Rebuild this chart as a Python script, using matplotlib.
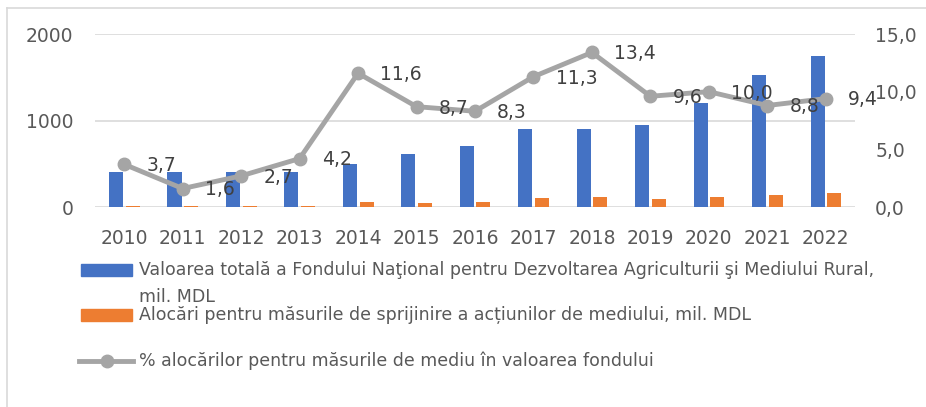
import matplotlib
matplotlib.use('Agg')
import matplotlib.pyplot as plt
from matplotlib.patches import Rectangle
from matplotlib.lines import Line2D
import numpy as np

# data
years = ['2010', '2011', '2012', '2013', '2014', '2015', '2016',
         '2017', '2018', '2019', '2020', '2021', '2022']
fond_total = [400, 400, 400, 400, 500, 610, 700, 900, 900, 950, 1200, 1530, 1750]
alocari_mediu = [15, 6, 11, 17, 58, 52, 58, 100, 116, 89, 116, 135, 165]
procent = [3.7, 1.6, 2.7, 4.2, 11.6, 8.7, 8.3, 11.3, 13.4, 9.6, 10.0, 8.8, 9.4]

label_blue = 'Valoarea totală a Fondului Naţional pentru Dezvoltarea Agriculturii şi Mediului Rural,'
label_blue2 = 'mil. MDL'
label_orange = 'Alocări pentru măsurile de sprijinire a acțiunilor de mediului, mil. MDL'
label_gray = '% alocărilor pentru măsurile de mediu în valoarea fondului'

blue = '#4472C4'
orange = '#ED7D31'
gray = '#A5A5A5'
txt = '#595959'

plt.rcParams['font.family'] = ['DejaVu Sans']
W, H = 926, 407
fig = plt.figure(figsize=(W / 100, H / 100), dpi=100)

ax = fig.add_axes([95 / W, 1 - 207 / H, 760 / W, 173 / H])
x = np.arange(len(years))
ax.bar(x - 0.14, fond_total, width=0.24, color=blue, zorder=2)
ax.bar(x + 0.145, alocari_mediu, width=0.24, color=orange, zorder=2)
ax.set_xlim(-0.5, len(years) - 0.5)
ax.set_ylim(0, 2000)
ax.set_yticks([0, 1000, 2000])
ax.set_xticks(x)
ax.set_xticklabels(years)
ax.grid(axis='y', color='#D9D9D9', lw=1.2, zorder=0)
for s in ax.spines.values():
    s.set_visible(False)
ax.tick_params(length=0, labelsize=13.5, colors=txt)
ax.tick_params(axis='y', pad=15.5)
ax.tick_params(axis='x', pad=15.5)

ax2 = ax.twinx()
ax2.plot(x, procent, color=gray, lw=3.5, marker='o', markersize=9, zorder=3)
ax2.set_ylim(0, 15)
ax2.set_yticks([0, 5, 10, 15])
ax2.set_yticklabels(['0,0', '5,0', '10,0', '15,0'])
for s in ax2.spines.values():
    s.set_visible(False)
ax2.tick_params(length=0, labelsize=13.5, colors=txt, pad=14.5)
for xi, v in zip(x, procent):
    ax2.annotate(f'{v:.1f}'.replace('.', ','), (xi, v), xytext=(16, -1),
                 textcoords='offset points', ha='left', va='center',
                 fontsize=13.5, color='#404040')

# outer chart frame
fig.add_artist(Line2D([7 / W, 7 / W], [0, 1 - 8 / H], color='#D9D9D9', lw=1.2))
fig.add_artist(Line2D([7 / W, 1], [1 - 8 / H, 1 - 8 / H], color='#D9D9D9', lw=1.2))

# legend
fig.add_artist(Rectangle((81 / W, 1 - 276 / H), 51 / W, 12 / H, color=blue))
fig.add_artist(Rectangle((81 / W, 1 - 321 / H), 51 / W, 12 / H, color=orange))
fig.add_artist(Line2D([79 / W, 133 / W], [1 - 361 / H] * 2, color=gray, lw=3.5))
fig.add_artist(Line2D([107 / W], [1 - 361 / H], color=gray, marker='o', markersize=9))
fs_leg = 12.5
fig.text(139 / W, 1 - 270 / H, label_blue, fontsize=fs_leg, color=txt, va='center')
fig.text(139 / W, 1 - 297 / H, label_blue2, fontsize=fs_leg, color=txt, va='center')
fig.text(139 / W, 1 - 315 / H, label_orange, fontsize=fs_leg, color=txt, va='center')
fig.text(139 / W, 1 - 361 / H, label_gray, fontsize=fs_leg, color=txt, va='center')

fig.savefig('out.png', dpi=100)
